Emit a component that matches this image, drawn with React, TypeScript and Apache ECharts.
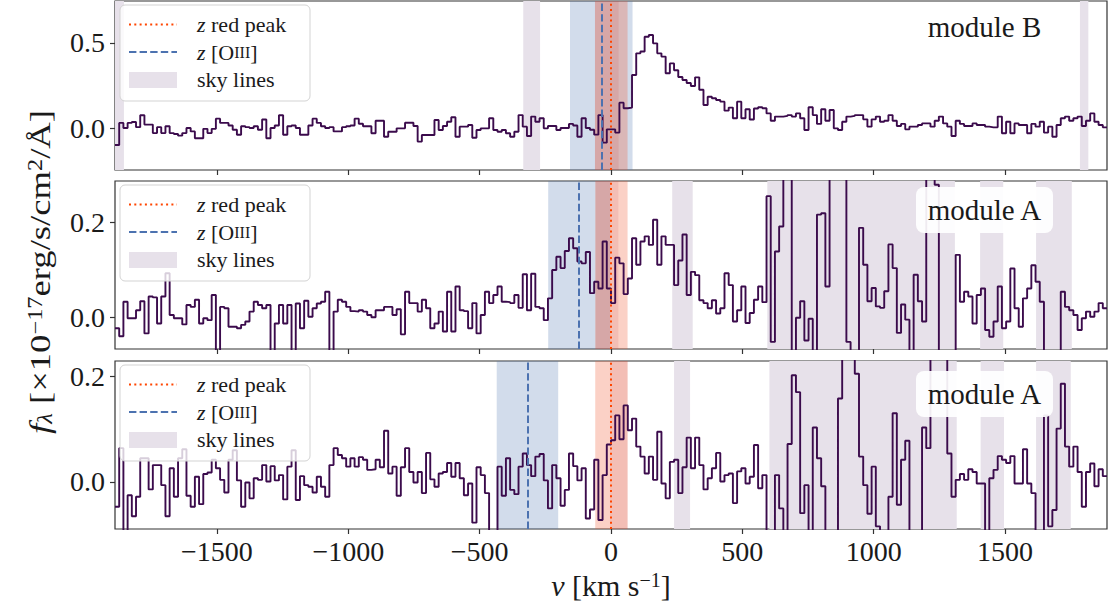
import React, { useEffect, useRef } from 'react';
import * as echarts from 'echarts';

const BIN_START = -1888;
const BIN_WIDTH = 16;
const X_MIN = -1888;
const X_MAX = 1888;

const xTicks = [-1500, -1000, -500, 0, 500, 1000, 1500];
const yTicksB = [0, 0.5];
const yTicksA1 = [0, 0.2];
const yTicksA2 = [0, 0.2];

// module B spectrum (top panel)
const fluxB = [
  -0.10, 0.03, 0.0, 0.03, 0.035, 0.005, 0.075, 0.02, 0.02, -0.03,
  0.005, -0.03, 0.01, -0.03, -0.035, -0.045, -0.03, 0.0, -0.02, -0.06,
  -0.06, -0.005, -0.03, -0.005, 0.055, 0.03, 0.03, 0.015, -0.01, -0.04,
  0.01, 0.005, 0.0, 0.01, -0.01, 0.05, -0.06, 0.0, 0.015, 0.075,
  -0.04, 0.01, 0.015, 0.0, -0.04, -0.04, 0.015, 0.055, 0.03, 0.01,
  0.0, 0.005, -0.02, -0.02, 0.005, 0.01, 0.015, 0.055, 0.025, 0.01,
  0.01, -0.031, 0.043, 0.043, -0.051, -0.022, -0.022, -0.002, -0.002, 0.031,
  0.031, 0.012, -0.08, -0.041, -0.041, -0.041, 0.047, -0.012, 0.012, 0.037,
  0.063, -0.051, 0.008, 0.008, 0.018, -0.057, -0.012, -0.002, -0.002, 0.057,
  -0.012, -0.022, -0.012, -0.031, -0.051, -0.022, 0.076, 0.008, -0.047, 0.067,
  0.037, 0.057, -0.002, 0.012, 0.012, -0.012, 0.0, 0.0, 0.024, 0.015,
  -0.051, 0.057, 0.0, -0.01, -0.039, 0.076, -0.086, -0.008, -0.008, -0.027,
  0.149, 0.116, 0.12, 0.312, 0.439, 0.45, 0.537, 0.547, 0.498, 0.439,
  0.42, 0.322, 0.38, 0.34, 0.3, 0.282, 0.265, 0.247, 0.298, 0.225,
  0.135, 0.184, 0.175, 0.165, 0.155, 0.102, 0.12, 0.057, 0.155, 0.057,
  0.11, 0.05, 0.115, 0.122, 0.116, 0.086, 0.043, 0.067, 0.067, 0.071,
  0.076, 0.067, 0.086, 0.057, -0.012, 0.122, 0.076, 0.024, 0.11, 0.043,
  0.106, -0.002, -0.012, 0.037, 0.067, 0.071, 0.076, 0.076, 0.051, 0.008,
  0.051, 0.067, 0.037, 0.043, 0.076, 0.043, 0.012, 0.024, -0.008, 0.008,
  0.008, 0.018, 0.027, 0.027, 0.008, 0.043, 0.067, 0.027, 0.008, -0.047,
  0.043, 0.024, 0.012, 0.012, 0.027, 0.018, 0.018, 0.008, 0.004, 0.004,
  0.067, -0.031, 0.037, -0.031, 0.027, 0.018, 0.018, -0.031, 0.024, 0.008,
  0.037, -0.027, 0.008, -0.051, 0.018, 0.057, 0.067, 0.043, 0.057, 0.067,
  0.012, 0.043, 0.086, 0.037, 0.018, 0.004,
];

// module A spectrum (middle panel)
const fluxA1 = [
  -0.023, -0.04, 0.033, -0.002, -0.002, 0.015, 0.034, -0.034, 0.044, 0.042,
  -0.013, 0.044, 0.093, 0.005, -0.002, -0.002, -0.015, 0.026, 0.022, 0.037,
  -0.013, -0.002, -0.006, 0.047, -0.08, 0.022, 0.019, -0.02, -0.02, -0.023,
  -0.016, -0.009, 0.012, 0.033, 0.026, 0.019, 0.026, -0.08, -0.013, 0.026,
  -0.013, 0.026, -0.08, 0.029, -0.023, 0.035, 0.001, 0.019, 0.029, 0.033,
  0.054, -0.08, 0.012, 0.037, 0.033, 0.022, 0.013, 0.012, 0.015, 0.012,
  0.005, 0.0, 0.015, 0.015, 0.022, 0.022, 0.005, 0.017, -0.036, 0.054,
  0.03, 0.03, 0.012, 0.037, 0.019, -0.023, -0.013, 0.012, -0.03, 0.054,
  -0.03, 0.065, 0.015, 0.013, -0.023, 0.03, -0.034, 0.005, 0.054, 0.03,
  0.047, 0.065, 0.033, 0.032, 0.03, 0.047, 0.02, 0.091, 0.015, 0.092,
  0.022, 0.019, -0.006, 0.04, 0.1, 0.128, 0.104, 0.14, 0.167, 0.146,
  0.118, 0.114, 0.138, 0.051, 0.075, 0.061, 0.16, 0.061, 0.03, 0.126,
  0.114, 0.049, 0.082, 0.167, 0.111, 0.16, 0.171, 0.153, 0.206, 0.111,
  0.171, 0.153, 0.153, 0.068, 0.12, 0.175, 0.047, 0.096, 0.089, 0.036,
  0.03, 0.019, 0.036, 0.008, 0.019, 0.093, 0.068, -0.009, 0.015, 0.065,
  -0.012, 0.009, 0.037, 0.065, 0.032, 0.256, -0.052, 0.139, 0.192, 0.35,
  0.35, -0.09, -0.001, 0.034, -0.049, -0.003, -0.09, 0.217, 0.22, 0.065,
  0.35, 0.35, 0.35, 0.35, -0.052, -0.09, -0.09, 0.189, 0.111, 0.034,
  0.062, 0.023, 0.02, 0.055, 0.154, 0.104, -0.033, 0.027, -0.005, -0.09,
  0.09, 0.034, -0.009, 0.35, 0.35, 0.28, -0.09, -0.09, -0.09, -0.09,
  0.132, 0.033, 0.054, 0.044, -0.013, 0.047, 0.061, -0.027, -0.041, -0.009,
  0.065, -0.023, -0.009, 0.103, 0.019, -0.02, 0.04, 0.061, 0.11, 0.075,
  0.033, -0.09, -0.09, -0.09, -0.09, 0.054, 0.022, 0.015, 0.005, -0.027,
  -0.002, 0.012, 0.001, 0.012, 0.03, 0.019,
];

// module A spectrum (bottom panel)
const fluxA2 = [
  -0.047, 0.064, -0.1, -0.025, -0.065, -0.028, 0.045, 0.045, -0.014, 0.032,
  0.032, -0.006, -0.065, 0.026, -0.028, 0.045, 0.062, -0.026, -0.047, 0.01,
  -0.042, 0.015, 0.018, 0.042, 0.026, 0.004, -0.02, 0.042, 0.06, 0.003,
  -0.047, -0.001, -0.031, 0.007, 0.004, 0.032, 0.001, 0.03, 0.003, 0.013,
  -0.033, 0.029, 0.06, -0.034, 0.011, -0.006, -0.009, -0.02, 0.01, -0.009,
  -0.028, 0.032, 0.064, 0.051, 0.045, 0.029, 0.045, 0.029, 0.047, 0.042,
  0.023, 0.024, 0.042, 0.028, 0.097, 0.016, 0.029, -0.026, 0.028, 0.064,
  0.019, -0.001, 0.019, -0.021, 0.055, 0.005, -0.009, 0.016, 0.019, 0.036,
  0.01, 0.036, 0.007, -0.025, -0.003, -0.077, 0.028, 0.013, -0.021, -0.1,
  -0.1, 0.029, -0.026, 0.045, -0.015, -0.023, 0.029, 0.054, 0.032, 0.011,
  0.048, 0.053, 0.003, -0.05, 0.032, 0.007, -0.045, -0.015, 0.054, 0.03,
  0.003, 0.026, -0.069, -0.052, 0.042, -0.072, 0.013, 0.071, 0.079, 0.126,
  0.081, 0.145, 0.098, 0.12, 0.067, 0.048, 0.016, 0.048, 0.004, 0.095,
  -0.003, -0.031, 0.038, 0.042, -0.021, 0.028, 0.084, 0.026, 0.084, 0.032,
  -0.014, 0.007, 0.026, 0.055, 0.001, 0.013, 0.016, -0.04, 0.02, 0.026,
  -0.003, 0.01, 0.07, -0.012, 0.013, -0.1, -0.1, 0.013, -0.05, -0.1,
  0.072, 0.202, 0.17, -0.059, -0.006, -0.1, 0.103, 0.045, -0.008, -0.1,
  -0.1, -0.1, 0.158, 0.3, 0.3, 0.3, 0.205, 0.048, -0.006, -0.06,
  0.029, -0.084, -0.1, -0.1, -0.028, 0.13, -0.043, 0.042, 0.078, -0.1,
  -0.1, -0.1, 0.103, 0.064, 0.3, 0.3, 0.3, 0.3, 0.054, -0.028,
  0.004, 0.015, 0.004, 0.024, 0.019, -0.003, -0.003, -0.1, 0.007, 0.023,
  0.049, 0.042, 0.036, 0.049, -0.003, -0.003, 0.062, -0.003, -0.021, -0.1,
  -0.1, 0.126, -0.084, -0.053, 0.101, 0.186, 0.067, 0.029, 0.067, 0.019,
  -0.047, 0.019, 0.035, -0.008, 0.024, 0.011,
];

const skyLinesB = [[-1888, -1854], [-334, -270], [1785, 1817]];
const skyLinesA1 = [[233, 311], [595, 1309], [1405, 1493], [1618, 1754]];
const skyLinesA2 = [[240, 301], [603, 1316], [1407, 1496], [1618, 1750]];

const zOIII = [-35, -121, -317];
const spanOIII = [[-156, 82], [-239, -3], [-435, -201]];
const zRedPeak = [0, 0, 0];
const spanRedPeak = [[-61, 63], [-60, 63], [-60, 63]];
const spanRedPeakInner = [[-61, 29], [-58, 28], [-4, 63]];

const yRanges = [[-0.247, 0.747], [-0.067, 0.288], [-0.089, 0.229]];
const moduleNames = ['module B', 'module A', 'module A'];

const FONT = "'Liberation Serif', 'Times New Roman', serif";
const LINE_COLOR = '#3b0b4c';
const SKY_COLOR = '#e7e1ea';
const BLUE = '#4c72b0';
const RED = '#ff4500';
const TXT = '#1a1a1a';

const panelTops = [1, 181, 361];
const panelHeights = [169, 168, 168];
const moduleTextY = [27, 210, 394];

function stepData(vals: number[]) {
  const pts: number[][] = vals.map((f, i) => [BIN_START + i * BIN_WIDTH, f]);
  pts.push([BIN_START + vals.length * BIN_WIDTH, vals[vals.length - 1]]);
  return pts;
}

const fmtX = (v: number) => (v < 0 ? '\u2212' + Math.abs(v) : String(v));

function legendGroup(top: number) {
  const left = 120;
  const fs = 22;
  const rich = {
    i: { fontStyle: 'italic', fontSize: fs, fontFamily: FONT, fill: TXT },
    sc: { fontSize: 16, fontFamily: FONT, fill: TXT },
  };
  const Z = 100;
  return {
    type: 'group',
    x: left,
    y: top,
    children: [
      {
        type: 'rect', z: Z,
        shape: { x: 0, y: 0, width: 190, height: 96, r: 5 },
        style: { fill: 'rgba(255,255,255,0.8)', stroke: '#d3d3d3', lineWidth: 1 },
      },
      {
        type: 'line', z: Z + 1,
        shape: { x1: 9, y1: 19.5, x2: 57, y2: 19.5 },
        style: { stroke: RED, lineWidth: 2, lineDash: [2, 3.3] },
      },
      {
        type: 'line', z: Z + 1,
        shape: { x1: 9, y1: 47, x2: 57, y2: 47 },
        style: { stroke: BLUE, lineWidth: 2, lineDash: [7.4, 3.2] },
      },
      {
        type: 'rect', z: Z + 1,
        shape: { x: 9, y: 67, width: 48, height: 16 },
        style: { fill: SKY_COLOR },
      },
      {
        type: 'text', z: Z + 1,
        style: { x: 77, y: 19.5, text: '{i|z} red peak', fontSize: fs, fontFamily: FONT, fill: TXT, verticalAlign: 'middle', rich },
      },
      {
        type: 'text', z: Z + 1,
        style: { x: 77, y: 47, text: '{i|z} [O{sc|III}]', fontSize: fs, fontFamily: FONT, fill: TXT, verticalAlign: 'middle', rich },
      },
      {
        type: 'text', z: Z + 1,
        style: { x: 77, y: 74.5, text: 'sky lines', fontSize: fs, fontFamily: FONT, fill: TXT, verticalAlign: 'middle' },
      },
    ],
  };
}

function moduleLabel(k: number) {
  const cy = moduleTextY[k];
  return {
    type: 'group',
    children: [
      {
        type: 'rect', z: 100,
        shape: { x: 916, y: cy - 23, width: 137, height: 46, r: 8 },
        style: { fill: 'rgba(255,255,255,0.92)' },
      },
      {
        type: 'text', z: 101,
        style: { x: 984.5, y: cy, text: moduleNames[k], fontSize: 29, fontFamily: FONT, fill: TXT, align: 'center', verticalAlign: 'middle' },
      },
    ],
  };
}

export default function App() {
  const ref = useRef<HTMLDivElement>(null);
  useEffect(() => {
    if (!ref.current) return;
    const chart = echarts.init(ref.current, undefined, { renderer: 'svg' });
    const fluxes = [fluxB, fluxA1, fluxA2];
    const skies = [skyLinesB, skyLinesA1, skyLinesA2];
    const yTicks = [yTicksB, yTicksA1, yTicksA2];

    const grid = [0, 1, 2].map((k) => ({
      left: 115,
      width: 992,
      top: panelTops[k],
      height: panelHeights[k],
      show: true,
      borderColor: '#333',
      borderWidth: 1.2,
      backgroundColor: 'transparent',
    }));

    const xAxis = [0, 1, 2].map((k) => ({
      type: 'value',
      gridIndex: k,
      min: X_MIN,
      max: X_MAX,
      splitLine: { show: false },
      axisLine: { show: false, onZero: false },
      axisTick: { show: true, length: 5, customValues: xTicks, lineStyle: { color: '#333', width: 1.2 } },
      axisLabel: {
        show: k === 2,
        customValues: xTicks,
        formatter: fmtX,
        fontSize: 28,
        fontFamily: FONT,
        color: TXT,
        margin: 8,
      },
    }));

    const yAxis = [0, 1, 2].map((k) => ({
      type: 'value',
      gridIndex: k,
      min: yRanges[k][0],
      max: yRanges[k][1],
      splitLine: { show: false },
      axisLine: { show: false, onZero: false },
      axisTick: { show: true, length: 5, customValues: yTicks[k], lineStyle: { color: '#333', width: 1.2 } },
      axisLabel: {
        customValues: yTicks[k],
        formatter: (v: number) => v.toFixed(1),
        fontSize: 28,
        fontFamily: FONT,
        color: TXT,
        margin: 10,
      },
    }));

    const areaSeries = (k: number, z: number, color: string, spans: number[][]) => ({
      type: 'line',
      xAxisIndex: k,
      yAxisIndex: k,
      data: [],
      silent: true,
      z,
      markArea: {
        silent: true,
        itemStyle: { color },
        data: spans.map(([a, b]) => [{ xAxis: a }, { xAxis: b }]),
      },
    });

    const series: any[] = [];
    [0, 1, 2].forEach((k) => {
      series.push(areaSeries(k, 1, SKY_COLOR, skies[k]));
      series.push(areaSeries(k, 2, 'rgba(76,114,176,0.25)', [spanOIII[k]]));
      series.push(areaSeries(k, 3, 'rgba(240,90,50,0.28)', [spanRedPeak[k]]));
      series.push(areaSeries(k, 3, 'rgba(190,60,60,0.12)', [spanRedPeakInner[k]]));
      series.push({
        type: 'line',
        xAxisIndex: k,
        yAxisIndex: k,
        data: stepData(fluxes[k]),
        step: 'end',
        showSymbol: false,
        silent: true,
        z: 4,
        lineStyle: { color: LINE_COLOR, width: 1.9 },
      });
      series.push({
        type: 'line',
        xAxisIndex: k,
        yAxisIndex: k,
        data: [],
        silent: true,
        z: 5,
        markLine: {
          silent: true,
          symbol: 'none',
          label: { show: false },
          data: [
            { xAxis: zOIII[k], lineStyle: { color: BLUE, width: 2, type: [7.4, 3.2] } },
            { xAxis: zRedPeak[k], lineStyle: { color: RED, width: 2, type: [2, 3.3] } },
          ],
        },
      });
    });

    const graphic: any[] = [];
    [0, 1, 2].forEach((k) => {
      graphic.push(legendGroup(panelTops[k] + 4));
      graphic.push(moduleLabel(k));
    });
    graphic.push({
      type: 'text',
      x: 611,
      y: 585,
      z: 100,
      style: {
        text: '{i|v} [km s{sup|\u22121}]',
        fontSize: 30,
        fontFamily: FONT,
        fill: TXT,
        align: 'center',
        verticalAlign: 'middle',
        rich: {
          i: { fontStyle: 'italic', fontSize: 30, fontFamily: FONT },
          sup: { fontSize: 20, fontFamily: FONT, verticalAlign: 'top' },
        },
      },
    });
    graphic.push({
      type: 'text',
      x: 40,
      y: 272,
      rotation: Math.PI / 2,
      scaleX: 1.22,
      z: 100,
      style: {
        text: '{i|f}{sub|\u03bb} [\u00d710{sup|\u221217}erg/s/cm{sup|2}/\u00c5]',
        fontSize: 30,
        fontFamily: FONT,
        fill: TXT,
        align: 'center',
        verticalAlign: 'middle',
        rich: {
          i: { fontStyle: 'italic', fontSize: 30, fontFamily: FONT },
          sub: { fontStyle: 'italic', fontSize: 20, fontFamily: FONT, verticalAlign: 'bottom' },
          sup: { fontSize: 20, fontFamily: FONT, verticalAlign: 'top' },
        },
      },
    });

    chart.setOption({
      animation: false,
      backgroundColor: '#ffffff',
      grid,
      xAxis,
      yAxis,
      series,
      graphic,
    });
    return () => chart.dispose();
  }, []);
  return <div ref={ref} style={{ position: 'absolute', left: 0, top: 0, width: 1108, height: 607 }} />;
}
